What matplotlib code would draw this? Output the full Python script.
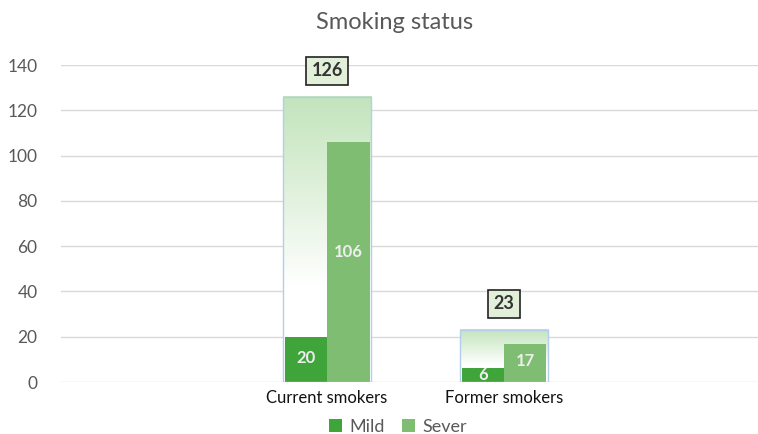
import numpy as np
import matplotlib
matplotlib.use("Agg")
import matplotlib.pyplot as plt
from matplotlib.colors import LinearSegmentedColormap
from matplotlib.patches import Rectangle

plt.rcParams['font.family'] = ['Lato', 'DejaVu Sans']

# data
categories = ["Current smokers", "Former smokers"]
mild = [20, 6]
sever = [106, 17]
totals = [m + s for m, s in zip(mild, sever)]

mild_color = '#3fa43a'
sever_color = '#7fbe72'

fig = plt.figure(figsize=(7.58, 4.34), dpi=100)
ax = fig.add_axes([0.0805, 0.1198, 0.9195, 0.7304])

x = np.arange(len(categories))
bw = 0.24
tot_w = 0.5

# gradient for the total box
grad_cmap = LinearSegmentedColormap.from_list('g', ['#ffffff', '#ffffff', '#e0f1dc', '#c3e4bc'], N=256)
grad = np.linspace(0, 1, 256).reshape(-1, 1)

for i, t in enumerate(totals):
    x0 = x[i] - tot_w / 2
    ax.imshow(grad, extent=[x0, x0 + tot_w, 0, t], origin='lower', cmap=grad_cmap,
              aspect='auto', zorder=1)
    ax.add_patch(Rectangle((x0, 0), tot_w, t, fill=False, edgecolor='#b4cdef', lw=1, zorder=3))
    ax.annotate(str(t), (x[i], t), xytext=(0, 26), textcoords='offset pixels',
                ha='center', va='center', fontsize=13, fontweight='bold', color='#333333',
                bbox=dict(boxstyle='square,pad=0.3', fc='#e2f0d9', ec='#222222', lw=1.2),
                zorder=5, annotation_clip=False)

b1 = ax.bar(x - bw / 2, mild, bw, color=mild_color, label='Mild', zorder=2)
b2 = ax.bar(x + bw / 2, sever, bw, color=sever_color, label='Sever', zorder=2)

for bars, vals in ((b1, mild), (b2, sever)):
    for r, v in zip(bars, vals):
        ax.text(r.get_x() + r.get_width() / 2, max(v / 2 + v * 0.04, 2.0), str(v), ha='center', va='center',
                color='#eeeeee', fontsize=12, fontweight='bold', zorder=4)

ax.set_xlim(-1.503, 2.435)
ax.set_ylim(0, 140)
ax.set_yticks(np.arange(0, 141, 20))
ax.set_xticks(x)
ax.set_xticklabels(categories, fontsize=12, color='#111111')
ax.tick_params(axis='y', labelsize=12.5, labelcolor='#595959', length=0, pad=17)
ax.tick_params(axis='x', length=0, pad=6)
ax.grid(axis='y', color='#d9d9d9', lw=1, zorder=0)
ax.set_axisbelow(True)
for s in ax.spines.values():
    s.set_visible(False)

fig.suptitle('Smoking status', x=0.52, y=0.972, fontsize=17, color='#595959')

fig.legend(handles=[b1, b2], labels=['Mild', 'Sever'], loc='lower center',
           bbox_to_anchor=(0.525, -0.04), ncol=2, frameon=False, fontsize=13,
           handlelength=0.7, handleheight=0.7, handletextpad=0.4, columnspacing=1.0,
           labelcolor='#595959')

fig.savefig('out.png', dpi=100)
